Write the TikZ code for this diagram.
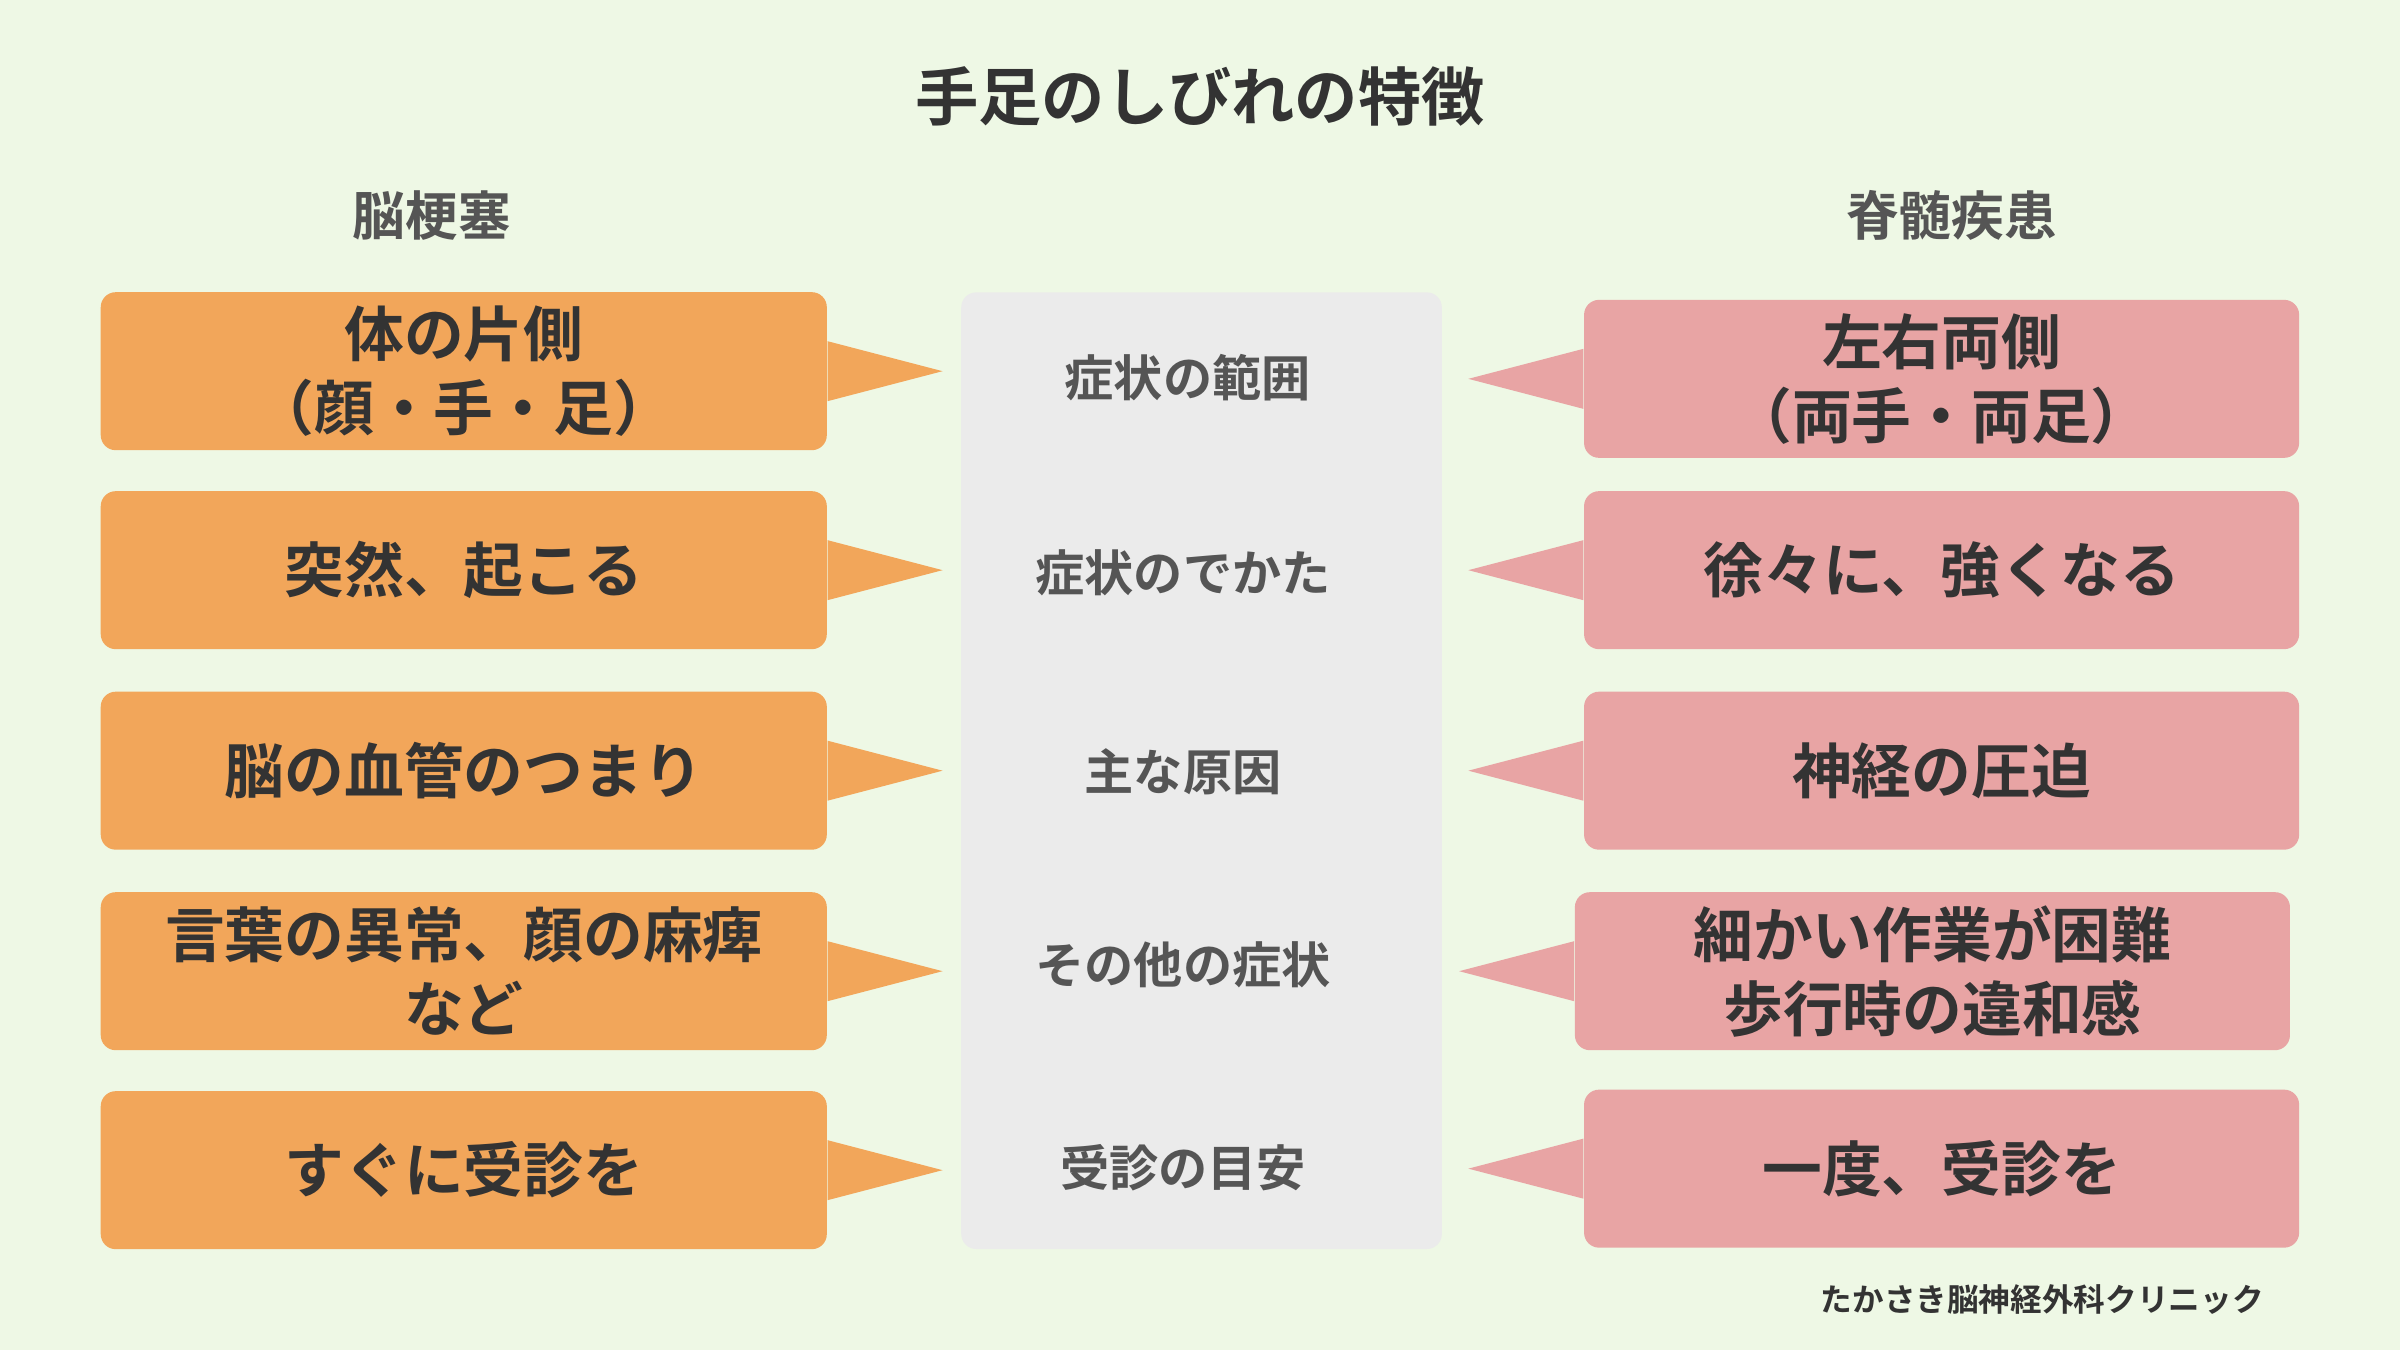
\documentclass[tikz,border=0pt]{standalone}
\usepackage{fontspec}
\setmainfont{Noto Sans CJK JP}[BoldFont={Noto Sans CJK JP Bold}]
\usetikzlibrary{positioning}
\definecolor{bgcol}{HTML}{EEF8E5}
\definecolor{leftcol}{HTML}{F2A65A}
\definecolor{rightcol}{HTML}{E8A4A4}
\definecolor{midcol}{HTML}{EBEBEB}
\definecolor{txtcol}{HTML}{333333}
\definecolor{subcol}{HTML}{555555}
\tikzset{
		lbox/.style={fill=leftcol, rounded corners=0.15cm, minimum width=7.26cm,
			minimum height=1.58cm, align=center, font=\fontsize{17}{21}\selectfont\bfseries,
			text=txtcol, inner sep=0pt},
		rbox/.style={lbox, fill=rightcol, minimum width=7.15cm},
		mlabel/.style={font=\fontsize{14}{17}\selectfont\bfseries, text=subcol},
		head/.style={font=\fontsize{15}{18}\selectfont\bfseries, text=subcol}
	}

\begin{document}
\begin{tikzpicture}[x=0.01531cm, y=-0.01531cm]
          \fill[bgcol] (0,0) rectangle (1568,882);
          \useasboundingbox (0,0) rectangle (1568,882);

          \node[font=\fontsize{18}{22}\selectfont\bfseries, text=txtcol] (title) at (784,63) {手足のしびれの特徴};
          \node[head] (lhead) at (282,141) {脳梗塞};
          \node[head] (rhead) at (1275,141) {脊髄疾患};

          \fill[midcol, rounded corners=0.15cm] (628,191) rectangle (942,816);

          % left column
          \foreach \i/\y/\t in {1/242.5/{体の片側\\（顔・手・足）}, 2/372.5/{突然、起こる},
                3/503.5/{脳の血管のつまり}, 4/634.5/{言葉の異常、顔の麻痺\\など}, 5/764.5/{すぐに受診を}}{
            \node[lbox] (l\i) at (303,\y) {\t};
            \coordinate (lt\i) at ([xshift=1.15cm]l\i.east);
            \fill[leftcol] ([yshift=0.3cm]l\i.east) -- (lt\i) -- ([yshift=-0.3cm]l\i.east) -- cycle;
          }

          % right column
          \foreach \i/\x/\y/\t in {1/1268.5/247.5/{左右両側\\（両手・両足）}, 2/1268.5/372.5/{徐々に、強くなる},
                3/1268.5/503.5/{神経の圧迫}, 4/1262.5/634.5/{細かい作業が困難\\歩行時の違和感}, 5/1268.5/763.5/{一度、受診を}}{
            \node[rbox] (r\i) at (\x,\y) {\t};
            \coordinate (rt\i) at ([xshift=-1.15cm]r\i.west);
            \fill[rightcol] ([yshift=0.3cm]r\i.west) -- (rt\i) -- ([yshift=-0.3cm]r\i.west) -- cycle;
          }

          % middle labels
          \node[mlabel] (m1) at (776,247) {症状の範囲};
          \node[mlabel] (m2) at (773,374) {症状のでかた};
          \node[mlabel] (m3) at (773,504) {主な原因};
          \node[mlabel] (m4) at (773,630) {その他の症状};
          \node[mlabel] (m5) at (773,763) {受診の目安};

          \node[font=\fontsize{9}{11}\selectfont\bfseries, text=txtcol, anchor=east] (foot) at (1487,849) {たかさき脳神経外科クリニック};
\end{tikzpicture}
\end{document}
